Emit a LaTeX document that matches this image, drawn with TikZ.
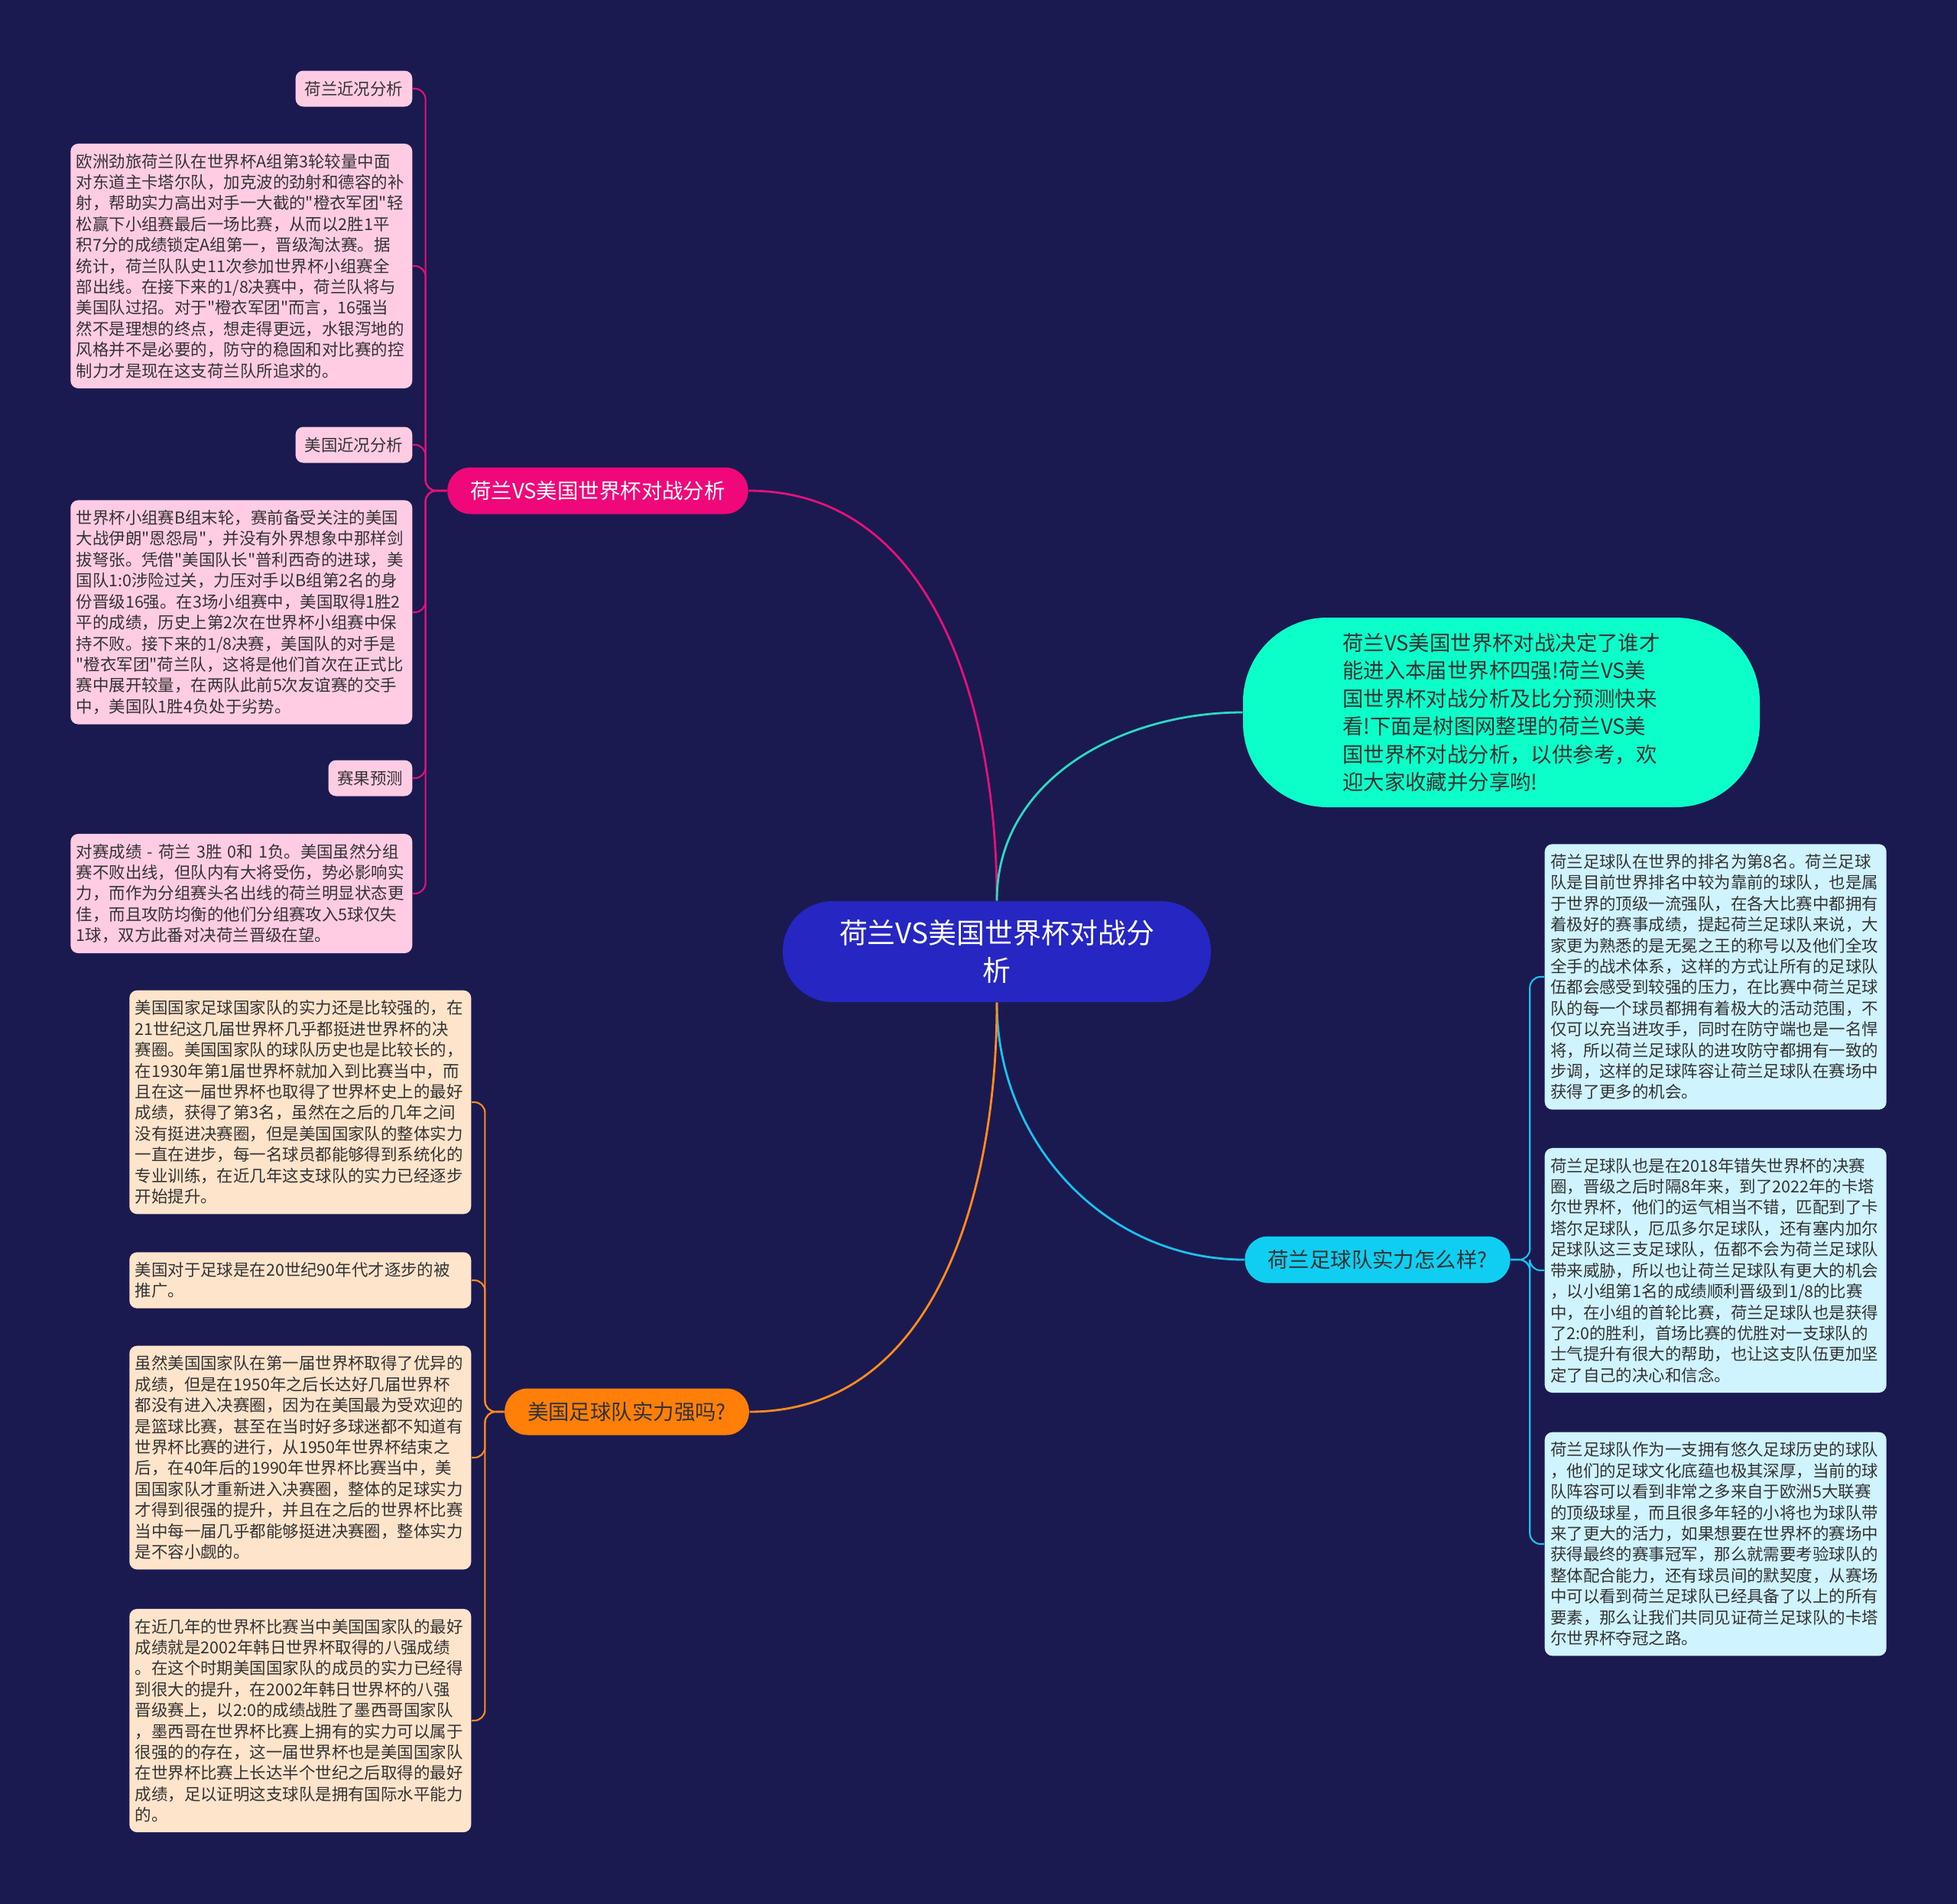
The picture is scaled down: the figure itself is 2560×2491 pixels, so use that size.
\documentclass[tikz,border=0pt]{standalone}
\usepackage{fontspec}
\setmainfont{Noto Sans CJK SC}[Ligatures=TeXOff]
\usepackage{xcolor}
\definecolor{bg}{HTML}{1B1A50}
\definecolor{rootc}{HTML}{2626C2}
\definecolor{ink}{HTML}{333333}
\definecolor{pinkM}{HTML}{F0077A}
\definecolor{pinkL}{HTML}{FFCCE3}
\definecolor{pinkE}{HTML}{E3127A}
\definecolor{tealM}{HTML}{0CFFC8}
\definecolor{tealE}{HTML}{2ED9C4}
\definecolor{cyanM}{HTML}{0FCEF2}
\definecolor{cyanL}{HTML}{CFF4FF}
\definecolor{cyanE}{HTML}{1EC0EE}
\definecolor{orgM}{HTML}{FF7F08}
\definecolor{orgL}{HTML}{FFE4CC}
\definecolor{orgE}{HTML}{FF8A1E}

\begin{document}
\begin{tikzpicture}[x=0.1mm,y=-0.1mm,
	leaf/.style={rectangle,rounded corners=1mm,text width=43.2mm,inner xsep=0.75mm,inner ysep=1.3mm,align=left,text=ink,font=\fontsize{6.1pt}{7.8pt}\selectfont},
	tag/.style={rectangle,rounded corners=1mm,inner xsep=1.2mm,inner ysep=0mm,minimum height=4.7mm,text=ink,fill=pinkL,font=\fontsize{6.1pt}{7.8pt}\selectfont},
	topic/.style={rectangle,rounded corners=3mm,inner xsep=3mm,inner ysep=0mm,minimum height=6.1mm,font=\fontsize{7.8pt}{10pt}\selectfont},
	link/.style={semithick,rounded corners=1.4mm}]
	\fill[bg] (0,0) rectangle (2560,2491);

	% centre and the four topics
	\node (root) at (1304,1245) [rectangle,rounded corners=6.5mm,minimum width=56mm,minimum height=13.2mm,fill=rootc,text=white,align=center,font=\fontsize{10.5pt}{13.9pt}\selectfont] {荷兰VS美国世界杯对战分\\析};
	\node (pm) at (782,642) [topic,fill=pinkM,text=white] {荷兰VS美国世界杯对战分析};
	\node (tm) at (1964,932) [rectangle,rounded corners=11mm,minimum width=67.6mm,minimum height=24.8mm,fill=tealM,text=ink,align=left,font=\fontsize{7.8pt}{10.4pt}\selectfont] {荷兰VS美国世界杯对战决定了谁才\\能进入本届世界杯四强!荷兰VS美\\国世界杯对战分析及比分预测快来\\看!下面是树图网整理的荷兰VS美\\国世界杯对战分析，以供参考，欢\\迎大家收藏并分享哟!};
	\node (cm) at (1802,1648) [topic,fill=cyanM,text=ink] {荷兰足球队实力怎么样?};
	\node (om) at (820,1847) [topic,fill=orgM,text=ink] {美国足球队实力强吗?};

	% pink side
	\node (pl1) at (540,116) [tag,anchor=east] {荷兰近况分析};
	\node (pt1) at (540,348) [leaf,anchor=east,fill=pinkL] {欧洲劲旅荷兰队在世界杯A组第3轮较量中面\\对东道主卡塔尔队，加克波的劲射和德容的补\\射，帮助实力高出对手一大截的"橙衣军团"轻\\松赢下小组赛最后一场比赛，从而以2胜1平\\积7分的成绩锁定A组第一，晋级淘汰赛。据\\统计，荷兰队队史11次参加世界杯小组赛全\\部出线。在接下来的1/8决赛中，荷兰队将与\\美国队过招。对于"橙衣军团"而言，16强当\\然不是理想的终点，想走得更远，水银泻地的\\风格并不是必要的，防守的稳固和对比赛的控\\制力才是现在这支荷兰队所追求的。};
	\node (pl2) at (540,582) [tag,anchor=east] {美国近况分析};
	\node (pt2) at (540,801) [leaf,anchor=east,fill=pinkL] {世界杯小组赛B组末轮，赛前备受关注的美国\\大战伊朗"恩怨局"，并没有外界想象中那样剑\\拔弩张。凭借"美国队长"普利西奇的进球，美\\国队1:0涉险过关，力压对手以B组第2名的身\\份晋级16强。在3场小组赛中，美国取得1胜2\\平的成绩，历史上第2次在世界杯小组赛中保\\持不败。接下来的1/8决赛，美国队的对手是\\"橙衣军团"荷兰队，这将是他们首次在正式比\\赛中展开较量，在两队此前5次友谊赛的交手\\中，美国队1胜4负处于劣势。};
	\node (pl3) at (540,1018) [tag,anchor=east] {赛果预测};
	\node (pt3) at (540,1169) [leaf,anchor=east,fill=pinkL] {对赛成绩 - 荷兰 3胜 0和 1负。美国虽然分组\\赛不败出线，但队内有大将受伤，势必影响实\\力，而作为分组赛头名出线的荷兰明显状态更\\佳，而且攻防均衡的他们分组赛攻入5球仅失\\1球，双方此番对决荷兰晋级在望。};

	% cyan side
	\node (ct1) at (2020,1278) [leaf,anchor=west,fill=cyanL] {荷兰足球队在世界的排名为第8名。荷兰足球\\队是目前世界排名中较为靠前的球队，也是属\\于世界的顶级一流强队，在各大比赛中都拥有\\着极好的赛事成绩，提起荷兰足球队来说，大\\家更为熟悉的是无冕之王的称号以及他们全攻\\全手的战术体系，这样的方式让所有的足球队\\伍都会感受到较强的压力，在比赛中荷兰足球\\队的每一个球员都拥有着极大的活动范围，不\\仅可以充当进攻手，同时在防守端也是一名悍\\将，所以荷兰足球队的进攻防守都拥有一致的\\步调，这样的足球阵容让荷兰足球队在赛场中\\获得了更多的机会。};
	\node (ct2) at (2020,1662) [leaf,anchor=west,fill=cyanL] {荷兰足球队也是在2018年错失世界杯的决赛\\圈，晋级之后时隔8年来，到了2022年的卡塔\\尔世界杯，他们的运气相当不错，匹配到了卡\\塔尔足球队，厄瓜多尔足球队，还有塞内加尔\\足球队这三支足球队，伍都不会为荷兰足球队\\带来威胁，所以也让荷兰足球队有更大的机会\\，以小组第1名的成绩顺利晋级到1/8的比赛\\中，在小组的首轮比赛，荷兰足球队也是获得\\了2:0的胜利，首场比赛的优胜对一支球队的\\士气提升有很大的帮助，也让这支队伍更加坚\\定了自己的决心和信念。};
	\node (ct3) at (2020,2020) [leaf,anchor=west,fill=cyanL] {荷兰足球队作为一支拥有悠久足球历史的球队\\，他们的足球文化底蕴也极其深厚，当前的球\\队阵容可以看到非常之多来自于欧洲5大联赛\\的顶级球星，而且很多年轻的小将也为球队带\\来了更大的活力，如果想要在世界杯的赛场中\\获得最终的赛事冠军，那么就需要考验球队的\\整体配合能力，还有球员间的默契度，从赛场\\中可以看到荷兰足球队已经具备了以上的所有\\要素，那么让我们共同见证荷兰足球队的卡塔\\尔世界杯夺冠之路。};

	% orange side
	\node (ot1) at (617,1442) [leaf,anchor=east,fill=orgL] {美国国家足球国家队的实力还是比较强的，在\\21世纪这几届世界杯几乎都挺进世界杯的决\\赛圈。美国国家队的球队历史也是比较长的，\\在1930年第1届世界杯就加入到比赛当中，而\\且在这一届世界杯也取得了世界杯史上的最好\\成绩，获得了第3名，虽然在之后的几年之间\\没有挺进决赛圈，但是美国国家队的整体实力\\一直在进步，每一名球员都能够得到系统化的\\专业训练，在近几年这支球队的实力已经逐步\\开始提升。};
	\node (ot2) at (617,1675) [leaf,anchor=east,fill=orgL] {美国对于足球是在20世纪90年代才逐步的被\\推广。};
	\node (ot3) at (617,1907) [leaf,anchor=east,fill=orgL] {虽然美国国家队在第一届世界杯取得了优异的\\成绩，但是在1950年之后长达好几届世界杯\\都没有进入决赛圈，因为在美国最为受欢迎的\\是篮球比赛，甚至在当时好多球迷都不知道有\\世界杯比赛的进行，从1950年世界杯结束之\\后，在40年后的1990年世界杯比赛当中，美\\国国家队才重新进入决赛圈，整体的足球实力\\才得到很强的提升，并且在之后的世界杯比赛\\当中每一届几乎都能够挺进决赛圈，整体实力\\是不容小觑的。};
	\node (ot4) at (617,2251) [leaf,anchor=east,fill=orgL] {在近几年的世界杯比赛当中美国国家队的最好\\成绩就是2002年韩日世界杯取得的八强成绩\\。在这个时期美国国家队的成员的实力已经得\\到很大的提升，在2002年韩日世界杯的八强\\晋级赛上，以2:0的成绩战胜了墨西哥国家队\\，墨西哥在世界杯比赛上拥有的实力可以属于\\很强的的存在，这一届世界杯也是美国国家队\\在世界杯比赛上长达半个世纪之后取得的最好\\成绩，足以证明这支球队是拥有国际水平能力\\的。};

	% branches from the centre
	\draw [thick,pinkE] (root.north) to[out=90,in=0] (pm.east);
	\draw [thick,tealE] (root.north) to[out=90,in=180] (tm.west);
	\draw [thick,cyanE] (root.south) to[out=-90,in=180] (cm.west);
	\draw [thick,orgE] (root.south) to[out=-90,in=0] (om.east);

	% sub branches
	\foreach \leaf in {pl1,pt1,pl2,pt2,pl3,pt3}
		\draw [link,pinkE] (pm.west) -- ++(-28,0) |- (\leaf.east);
	\foreach \leaf in {ct1,ct2,ct3}
		\draw [link,cyanE] (cm.east) -- ++(25,0) |- (\leaf.west);
	\foreach \leaf in {ot1,ot2,ot3,ot4}
		\draw [link,orgE] (om.west) -- ++(-25,0) |- (\leaf.east);
\end{tikzpicture}
\end{document}
